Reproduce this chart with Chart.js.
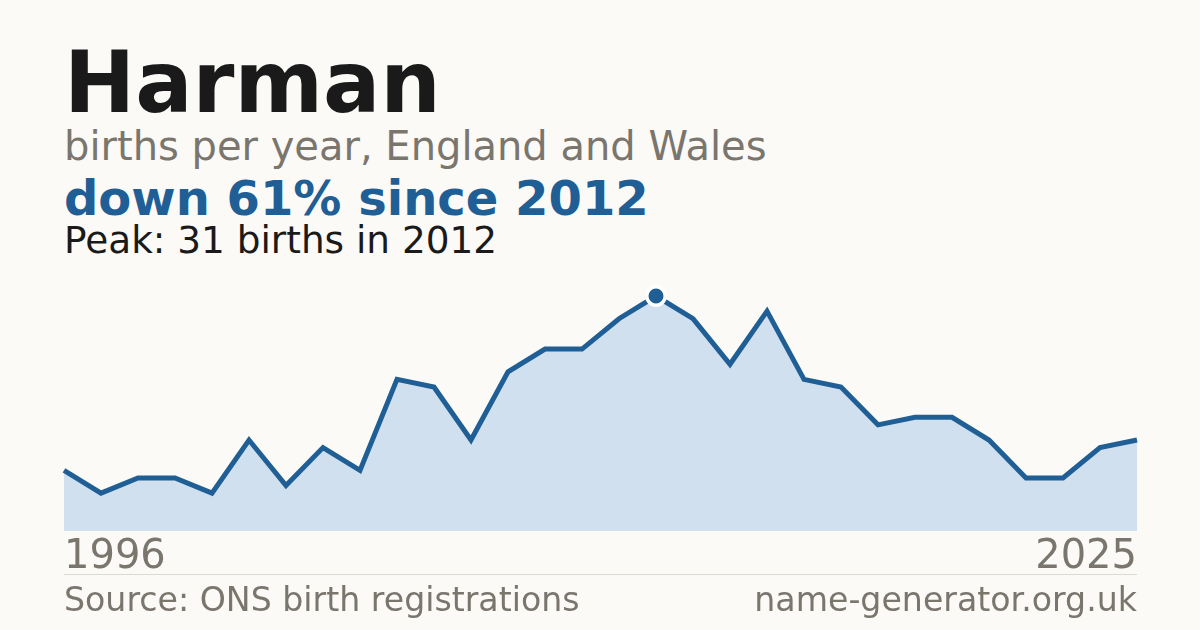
<!DOCTYPE html>
<html>
<head>
<meta charset="utf-8">
<script src="https://cdn.jsdelivr.net/npm/chart.js@4.4.1/dist/chart.umd.min.js"></script>
<style>
  html, body { margin: 0; padding: 0; background: #fbfaf6; }
  body { width: 1200px; height: 630px; position: relative; overflow: hidden; font-family: "DejaVu Sans", sans-serif; }
  .txt { position: absolute; left: 64px; line-height: 1; white-space: nowrap; }
  #wrap { position: absolute; left: 0; top: 0; width: 1200px; height: 630px; }
  #rule { position: absolute; left: 64px; top: 574px; width: 1073px; height: 1px; background: #dedad2; }
</style>
</head>
<body>
<div class="txt" style="top:40px;font-size:85px;font-weight:bold;color:#1a1a1a;">Harman</div>
<div class="txt" style="top:126px;font-size:40px;color:#7a766e;">births per year, England and Wales</div>
<div class="txt" style="top:174px;font-size:48px;font-weight:bold;color:#1f5f96;">down 61% since 2012</div>
<div class="txt" style="top:222px;font-size:37.4px;color:#1a1a1a;">Peak: 31 births in 2012</div>
<div id="wrap"><canvas id="grafico"></canvas></div>
<div id="rule"></div>
<div class="txt" style="top:583px;font-size:33.2px;color:#7a766e;">Source: ONS birth registrations</div>
<div class="txt" style="top:583px;left:auto;right:63px;font-size:33.2px;color:#7a766e;">name-generator.org.uk</div>
<script>
// años y nacimientos
const years = [1996, 1997, 1998, 1999, 2000, 2001, 2002, 2003, 2004, 2005,
               2006, 2007, 2008, 2009, 2010, 2011, 2012, 2013, 2014, 2015,
               2016, 2017, 2018, 2019, 2020, 2021, 2022, 2023, 2024, 2025];
const births = [8, 5, 7, 7, 5, 12, 6, 11, 8, 20,
                19, 12, 21, 24, 24, 28, 31, 28, 22, 29,
                20, 19, 14, 15, 15, 12, 7, 7, 11, 12];

const peakIndex = births.indexOf(Math.max(...births));
const lastIndex = years.length - 1;

Chart.defaults.font.family = '"DejaVu Sans", sans-serif';

const ctx = document.getElementById('grafico').getContext('2d');
new Chart(ctx, {
    type: 'line',
    data: {
        labels: years,
        datasets: [{
            data: births,
            borderColor: '#1f5f96',
            borderWidth: 5,
            backgroundColor: '#d0e0ef',
            fill: 'origin',
            tension: 0,
            clip: false,
            pointRadius: c => c.dataIndex === peakIndex ? 9.25 : 0,
            pointHoverRadius: c => c.dataIndex === peakIndex ? 9.25 : 0,
            pointBackgroundColor: '#1f5f96',
            pointBorderColor: '#ffffff',
            pointBorderWidth: 3.5
        }]
    },
    options: {
        responsive: true,
        maintainAspectRatio: false,
        animation: false,
        events: [],
        layout: { padding: { left: 64, right: 63, top: 296, bottom: 45 } },
        plugins: {
            legend: { display: false },
            tooltip: { enabled: false }
        },
        scales: {
            x: {
                grid: { display: false, drawTicks: false },
                border: { display: false },
                ticks: {
                    autoSkip: false,
                    maxRotation: 0,
                    align: 'inner',
                    padding: 3,
                    color: '#7a766e',
                    font: { size: 40 },
                    callback: (v, i) => (i === 0 || i === lastIndex) ? years[i] : ''
                }
            },
            y: {
                display: false,
                min: 0,
                max: 31
            }
        }
    }
});
</script>
</body>
</html>
